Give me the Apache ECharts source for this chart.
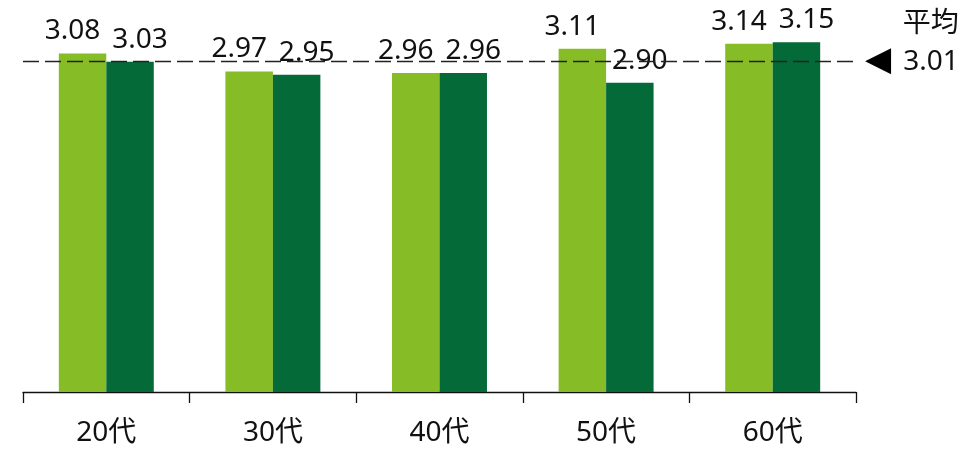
<!DOCTYPE html>
<html><head><meta charset="utf-8">
<script src="https://cdn.jsdelivr.net/npm/echarts@6/dist/echarts.min.js"></script>
<style>html,body{margin:0;padding:0;background:#fff}#c{width:978px;height:449px}</style>
</head><body><div id="c"></div>
<script>
const categories = ['20代', '30代', '40代', '50代', '60代'];
const seriesA = [3.08, 2.97, 2.96, 3.11, 3.14];
const seriesB = [3.03, 2.95, 2.96, 2.90, 3.15];
const avgLabel = '3.01';
const avgTitle = '平均';
const avgLevel = 3.027;
const yMin = 1, yMax = 3.2;

const FONT = '"Noto Sans", "Noto Sans CJK JP", sans-serif';
const chart = echarts.init(document.getElementById('c'));
function labelCfg(dx) {
  return {
    show: true, position: 'top', distance: 8, offset: [dx, 0], color: '#111',
    fontSize: 28, fontFamily: FONT,
    formatter: p => p.value.toFixed(2)
  };
}
chart.setOption({
  animation: false,
  grid: { left: 23, right: 122, top: 34, bottom: 57 },
  xAxis: {
    type: 'category', data: categories,
    axisLine: { lineStyle: { color: '#111', width: 1.3 } },
    axisTick: { show: true, length: 11, lineStyle: { color: '#111', width: 1.3 } },
    axisLabel: { color: '#111', fontSize: 28, fontFamily: FONT, margin: 27 }
  },
  yAxis: { type: 'value', min: yMin, max: yMax, show: false, splitLine: { show: false } },
  series: [
    {
      type: 'bar', data: seriesA, barGap: '0%', barCategoryGap: '43%',
      itemStyle: { color: '#86BC25' }, label: labelCfg(-10),
      markLine: {
        silent: true, symbol: 'none',
        lineStyle: { color: '#222', width: 1.4, type: [16, 6] },
        label: {
          show: true, position: 'end', distance: 9,
          formatter: '{t|' + avgTitle + '}\n{tri|◀}{v|' + avgLabel + '}\n{t| }',
          rich: {
            t: { fontSize: 28, fontFamily: FONT, color: '#111', lineHeight: 38, align: 'right' },
            tri: { fontSize: 34, fontFamily: '"DejaVu Sans"', color: '#000', lineHeight: 38 },
            v: { fontSize: 28, fontFamily: FONT, color: '#111', lineHeight: 38, padding: [0, 0, 0, 12] }
          }
        },
        data: [{ yAxis: avgLevel }]
      }
    },
    {
      type: 'bar', data: seriesB, barGap: '0%', barCategoryGap: '43%',
      itemStyle: { color: '#046A38' }, label: labelCfg(10)
    }
  ]
});
</script></body></html>
